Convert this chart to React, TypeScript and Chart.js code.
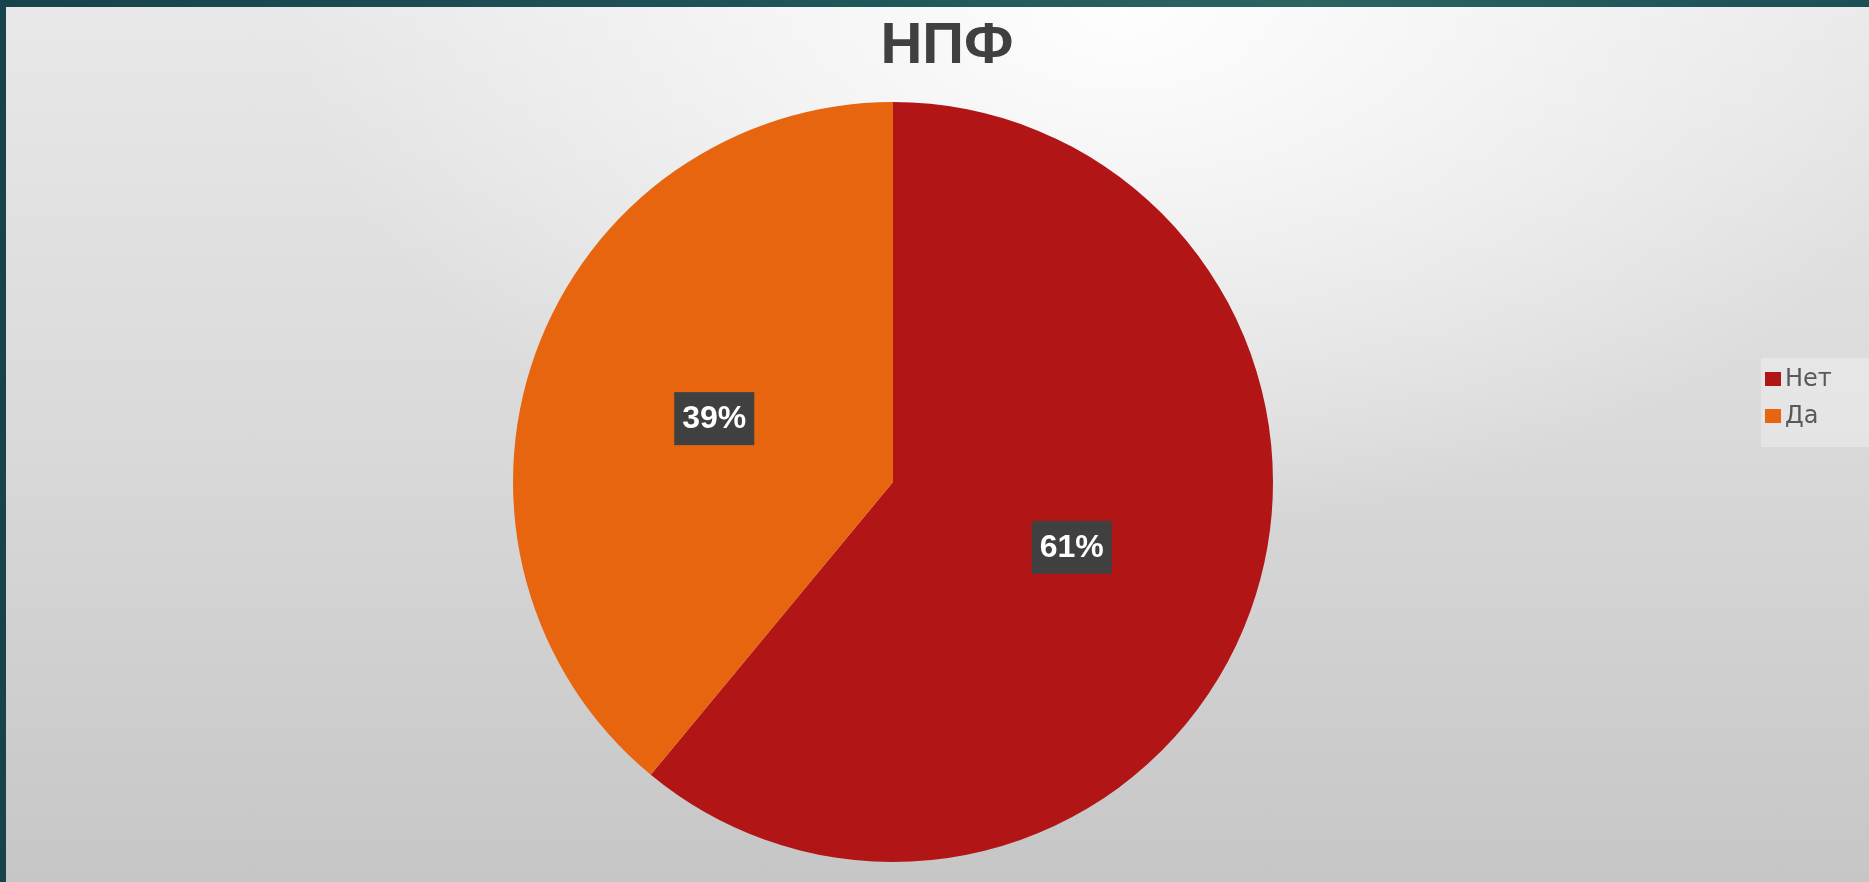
import React, { useEffect, useRef } from "react";
import { Chart, registerables } from "chart.js";

Chart.register(...registerables);

const TITLE = "НПФ";
const categories = ["Нет", "Да"];
const values = [61, 39];
const sliceColors = ["#B21515", "#E8650F"];

const CW = 1863;
const CH = 875;

export default function App() {
  const ref = useRef<HTMLCanvasElement | null>(null);

  useEffect(() => {
    document.body.style.margin = "0";
    const canvas = ref.current;
    if (!canvas) return;

    const overlay = {
      id: "overlay",
      afterDatasetsDraw(chart: any) {
        const ctx = chart.ctx as CanvasRenderingContext2D;
        const total = values.reduce((a, b) => a + b, 0);
        ctx.save();

        // title
        ctx.font = "bold 58px 'Liberation Sans', Arial, sans-serif";
        ctx.fillStyle = "#404040";
        ctx.textAlign = "center";
        ctx.textBaseline = "middle";
        ctx.fillText(TITLE, 941, 40);

        // data labels
        const meta = chart.getDatasetMeta(0);
        ctx.font = "bold 32px 'Liberation Sans', Arial, sans-serif";
        meta.data.forEach((arc: any, i: number) => {
          const p = arc.tooltipPosition(false);
          const txt = Math.round((values[i] / total) * 100) + "%";
          const tw = ctx.measureText(txt).width;
          const bw = tw + 16;
          const bh = 53;
          ctx.fillStyle = "#404040";
          ctx.fillRect(p.x - bw / 2, p.y - bh / 2 + 1, bw, bh);
          ctx.fillStyle = "#ffffff";
          ctx.fillText(txt, p.x, p.y + 2);
        });

        // legend
        ctx.fillStyle = "rgba(255,255,255,0.3)";
        ctx.fillRect(1755, 351, 108, 89);
        ctx.font = "24px 'DejaVu Sans', sans-serif";
        ctx.textAlign = "left";
        categories.forEach((c, i) => {
          const cy = 372 + i * 37;
          ctx.fillStyle = sliceColors[i];
          ctx.fillRect(1759, cy - 7, 16, 14);
          ctx.fillStyle = "#595959";
          ctx.fillText(c, 1779, cy + 1);
        });
        ctx.restore();
      },
    };

    const chart = new Chart(canvas, {
      type: "pie",
      data: {
        labels: categories,
        datasets: [
          {
            data: values,
            backgroundColor: sliceColors,
            borderWidth: 0,
          },
        ],
      },
      options: {
        responsive: false,
        animation: false,
        layout: { padding: { top: 95, bottom: 20, left: 0, right: 89 } },
        plugins: {
          legend: { display: false },
          title: { display: false },
          tooltip: { enabled: false },
        },
      },
      plugins: [overlay],
    });
    return () => chart.destroy();
  }, []);

  return (
    <div
      style={{
        position: "relative",
        width: 1869,
        height: 882,
        overflow: "hidden",
        background:
          "linear-gradient(90deg, #17434c 0%, #1f5358 40%, #2a6562 70%, #1c4e56 100%)",
      }}
    >
      <div
        style={{
          position: "absolute",
          left: 6,
          top: 7,
          width: CW,
          height: CH,
          background:
            "radial-gradient(ellipse 45% 60% at 60% 0%, rgba(255,255,255,0.95), rgba(255,255,255,0) 100%), linear-gradient(180deg, #e8e8e8 0%, #d9d9d9 50%, #c6c6c6 100%)",
        }}
      >
        <canvas ref={ref} width={CW} height={CH} style={{ display: "block" }} />
      </div>
    </div>
  );
}
